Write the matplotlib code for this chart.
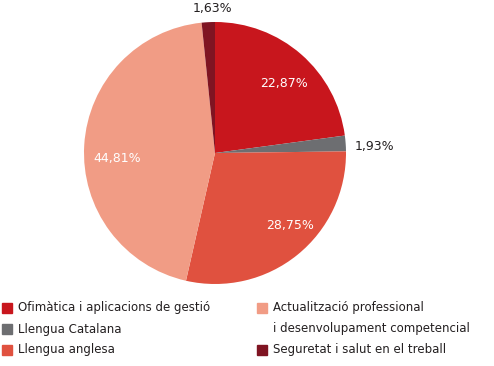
import matplotlib
matplotlib.use("Agg")
import matplotlib.pyplot as plt
from matplotlib.patches import Rectangle

categories = ["Ofimàtica i aplicacions de gestió", "Llengua Catalana", "Llengua anglesa",
              "Actualització professional\ni desenvolupament competencial", "Seguretat i salut en el treball"]
values = [22.87, 1.93, 28.75, 44.81, 1.63]
labels = ["22,87%", "1,93%", "28,75%", "44,81%", "1,63%"]
colors = ["#c8161d", "#6d6e71", "#e0513f", "#f19c85", "#7f1422"]
label_colors = ["white", "#231f20", "white", "white", "#231f20"]
label_pos = [(0.53, 0.53), (1.22, 0.05), (0.57, -0.55), (-0.75, -0.04), (-0.02, 1.10)]

W, H = 494, 366
fig = plt.figure(figsize=(W / 100, H / 100), dpi=100)
cx, cy, r = 215, 153, 131
ax = fig.add_axes([(cx - r) / W, (H - cy - r) / H, 2 * r / W, 2 * r / H])
ax.pie(values, colors=colors, startangle=90, counterclock=False, radius=1,
       wedgeprops=dict(linewidth=0))
ax.set_xlim(-1, 1)
ax.set_ylim(-1, 1)
ax.set_aspect("auto")
ax.axis("off")
for lab, c, (x, y) in zip(labels, label_colors, label_pos):
    ax.text(x, y, lab, color=c, ha="center", va="center", fontsize=9,
            family="DejaVu Sans", clip_on=False)

# legend
leg_items = [(7, 308, 0), (7, 329, 1), (7, 350, 2), (262, 308, 3), (262, 350, 4)]
for x, y, i in leg_items:
    fig.patches.append(Rectangle(((x - 5) / W, (H - y - 5) / H), 10 / W, 10 / H,
                                 transform=fig.transFigure, color=colors[i]))
    for k, line in enumerate(categories[i].split("\n")):
        fig.text((x + 11) / W, (H - y - 20.5 * k) / H, line, ha="left",
                 va="center", fontsize=8.5, color="#231f20",
                 family="DejaVu Sans")
fig.savefig("out.png", dpi=100)
